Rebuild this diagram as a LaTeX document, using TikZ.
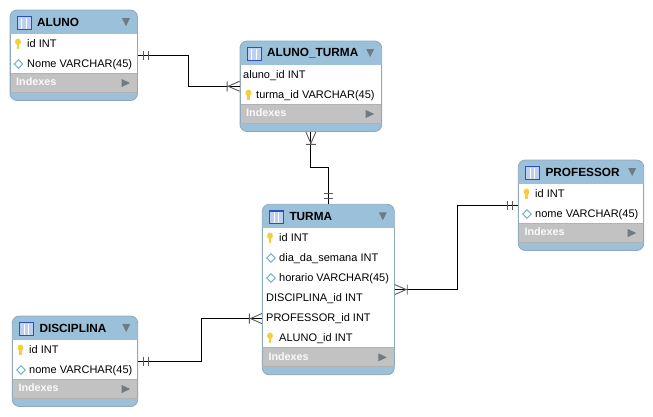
\documentclass[tikz,border=0pt]{standalone}
\usepackage{fontspec}
\setmainfont{Liberation Sans}
\definecolor{headblue}{HTML}{9AC0DA}
\definecolor{bordblue}{HTML}{8FA9BB}
\definecolor{idxgray}{HTML}{C2C2C2}
\definecolor{keygold}{HTML}{F4CF3A}
\definecolor{attrteal}{HTML}{5FAFBE}
\definecolor{marrow}{HTML}{6F7A82}
\definecolor{iconblue}{HTML}{2E4FC4}
\definecolor{iconfill}{HTML}{BCD0F0}
\tikzset{
  tablebody/.style={draw=bordblue,line width=.8pt,fill=headblue,rounded corners=7pt,inner sep=0pt},
  tabletitle/.style={anchor=west,inner sep=0pt,font=\fontsize{11.8}{14}\selectfont\bfseries},
  rowtext/.style={anchor=west,inner sep=0pt,text height=8.5pt,text depth=2.5pt,font=\fontsize{11}{13}\selectfont},
  idxtext/.style={anchor=west,inner sep=0pt,text=white!92!idxgray,font=\fontsize{10.8}{13}\selectfont\bfseries},
  relline/.style={draw=black,line width=1pt},
  relmark/.style={draw=black!65,line width=.9pt},
  keyicon/.pic={
    \fill[keygold] (0,-2.2) ellipse (3 and 3.2);
    \fill[keygold] (-1.2,-1) rectangle (1.2,5.2);
  },
  attricon/.pic={
    \draw[attrteal,line width=.8pt,fill=white] (-4.3,0) -- (0,-4.3) -- (4.3,0) -- (0,4.3) -- cycle;
  },
  tableicon/.pic={
    \fill[iconfill] (0,0) rectangle (14,13);
    \draw[white,line width=.7pt] (4.7,2) -- (4.7,13) (9.3,2) -- (9.3,13);
    \draw[iconblue,line width=.7pt] (0,0) rectangle (14,13);
    \draw[iconblue,line width=1.4pt] (0,.5) -- (14,.5);
  },
  barsmark/.pic={
    \draw[relmark] (5.5,-4.5) -- (5.5,4.5) (10.5,-4.5) -- (10.5,4.5);
  },
  crowmark/.pic={
    \draw[relmark] (0,-5) -- (11.5,0) -- (0,5) (12.5,-5) -- (12.5,5);
  },
}
% #1 name, #2 x, #3 y, #4 width, #5 height of the rows, #6 title
\newcommand{\dbtable}[6]{
  \pgfmathsetmacro{\tabh}{24+#5+19+8.5}
  \begin{scope}[shift={(#2,#3)}]
    \node[tablebody,minimum width=#4pt,minimum height=\tabh pt] (#1) at (#4/2,\tabh/2) {};
    \fill[white] (0,24) rectangle (#4,24+#5);
    \fill[idxgray] (0,24+#5) rectangle (#4,24+#5+19);
    \draw[black!30,line width=.5pt] (0,24+#5) -- (#4,24+#5) (0,24+#5+19) -- (#4,24+#5+19);
    \draw[bordblue,line width=.8pt] (0,24) -- (0,24+#5+19) (#4,24) -- (#4,24+#5+19);
    \pic at (7,6) {tableicon};
    \node[tabletitle] (#1title) at (27,12) {#6};
    \fill[marrow] (#4-15.5,8) -- (#4-7.5,8) -- (#4-11.5,16) -- cycle;
    \node[idxtext] (#1idx) at (6,24+#5+9) {Indexes};
    \fill[marrow] (#4-16,24+#5+6) -- (#4-7.5,24+#5+10) -- (#4-16,24+#5+14) -- cycle;
  \end{scope}
}
\begin{document}
\begin{tikzpicture}[x=1pt,y=-1pt]
\useasboundingbox (0,0) rectangle (653,416);

\dbtable{aluno}{10}{10}{127.5}{39}{ALUNO}
\dbtable{alunoturma}{240}{41}{141.7}{39}{ALUNO\_TURMA}
\dbtable{turma}{262.3}{204.3}{132}{119}{TURMA}
\dbtable{professor}{518.3}{160}{125.4}{39}{PROFESSOR}
\dbtable{disciplina}{12.3}{316}{125.4}{39}{DISCIPLINA}

% ALUNO
\pic at (18,44) {keyicon};
\node[rowtext] (alunoid) at (27,44) {id INT};
\pic at (18.5,64) {attricon};
\node[rowtext] (alunonome) at (27,64) {Nome VARCHAR(45)};

% ALUNO_TURMA
\node[rowtext] (atalunoid) at (243,75) {aluno\_id INT};
\pic at (248.5,95) {keyicon};
\node[rowtext] (atturmaid) at (256,95) {turma\_id VARCHAR(45)};

% TURMA
\pic at (270,238) {keyicon};
\node[rowtext] (turmaid) at (279,238) {id INT};
\pic at (271,258) {attricon};
\node[rowtext] (turmadia) at (279,258) {dia\_da\_semana INT};
\pic at (271,278) {attricon};
\node[rowtext] (turmahorario) at (279,278) {horario VARCHAR(45)};
\node[rowtext] (turmadisc) at (266,298) {DISCIPLINA\_id INT};
\node[rowtext] (turmaprof) at (266,318) {PROFESSOR\_id INT};
\pic at (270,338) {keyicon};
\node[rowtext] (turmaaluno) at (279,338) {ALUNO\_id INT};

% PROFESSOR
\pic at (526.5,194) {keyicon};
\node[rowtext] (profid) at (535,194) {id INT};
\pic at (527,214) {attricon};
\node[rowtext] (profnome) at (535,214) {nome VARCHAR(45)};

% DISCIPLINA
\pic at (20.5,350) {keyicon};
\node[rowtext] (discid) at (29,350) {id INT};
\pic at (21,370) {attricon};
\node[rowtext] (discnome) at (29,370) {nome VARCHAR(45)};

% relations
\draw[relline] (aluno.east) -- ++(51,0) |- (alunoturma.west);
\pic at (aluno.east) {barsmark};
\pic[rotate=180] at (alunoturma.west) {crowmark};

\draw[relline] (alunoturma.south) -- ++(0,36) -| (turma.north);
\pic[rotate=-90] at (alunoturma.south) {crowmark};
\pic[rotate=90] at (turma.north) {barsmark};

\draw[relline] (turma.east) -- ++(62.5,0) |- (professor.west);
\pic at (turma.east) {crowmark};
\pic[rotate=180] at (professor.west) {barsmark};

\draw[relline] (disciplina.east) -- ++(63,0) |- ([yshift=-29pt]turma.west);
\pic at (disciplina.east) {barsmark};
\pic[rotate=180] at ([yshift=-29pt]turma.west) {crowmark};
\end{tikzpicture}
\end{document}
